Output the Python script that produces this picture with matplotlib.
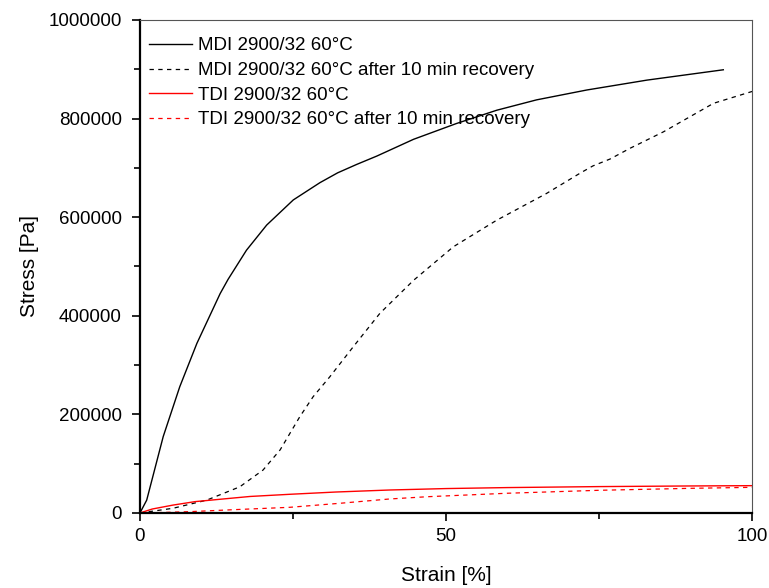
import matplotlib.pyplot as plt
from matplotlib.ticker import MultipleLocator, FormatStrFormatter

plt.rcParams['font.family'] = ['Liberation Sans', 'DejaVu Sans']

# MDI, first loading
mdi_x = [0, 1.1, 3.8, 6.5, 9.3, 13.1, 14.4, 17.4, 20.7, 25.05, 29.4, 32.3,
         35.4, 38.7, 44.7, 51.7, 58.3, 64.8, 73, 82.8, 95.3]
mdi_y = [0, 26000, 155000, 256000, 344000, 445000, 474000, 533000, 584000,
         635000, 670000, 690000, 707000, 724000, 758000, 790000, 817000,
         838000, 858000, 878000, 899000]

# MDI, after 10 min recovery
mdi_rec_x = [0, 5.4, 10.9, 16.3, 20.1, 22.9, 26.1, 28.3, 31, 34.9, 39.2,
             44.7, 51.2, 58.3, 66.4, 72, 74, 76.8, 80.1, 85.5, 93.7, 100]
mdi_rec_y = [0, 9500, 26000, 53000, 87000, 128000, 195000, 236000, 276000,
             338000, 405000, 472000, 540000, 594000, 648000, 690000, 704000,
             718000, 740000, 773000, 831000, 855000]

# TDI, first loading
tdi_x = [0, 2, 5.4, 9, 13.6, 18, 24.5, 32, 40.8, 50, 60, 75, 90, 100]
tdi_y = [0, 8000, 16000, 23000, 28400, 33500, 37900, 42500, 46600, 49500,
         51500, 53500, 54800, 55400]

# TDI, after 10 min recovery
tdi_rec_x = [0, 3, 8.2, 15, 24.5, 33, 40.8, 47, 60, 75, 90, 100]
tdi_rec_y = [0, 800, 2700, 6500, 11500, 20000, 28400, 33000, 40000, 46000,
             50000, 52000]

fig = plt.figure(figsize=(7.69, 5.88), dpi=100)
ax = fig.add_axes([0.182, 0.1276, 0.796, 0.8384])

dash = (0, (3.5, 3.5))
ax.plot(mdi_x, mdi_y, color='black', lw=1.0, label='MDI 2900/32 60°C')
ax.plot(mdi_rec_x, mdi_rec_y, color='black', lw=0.9, ls=dash,
        label='MDI 2900/32 60°C after 10 min recovery')
ax.plot(tdi_x, tdi_y, color='red', lw=1.0, label='TDI 2900/32 60°C')
ax.plot(tdi_rec_x, tdi_rec_y, color='red', lw=0.9, ls=dash,
        label='TDI 2900/32 60°C after 10 min recovery')

ax.set_xlim(0, 100)
ax.set_ylim(0, 1000000)
ax.xaxis.set_major_locator(MultipleLocator(50))
ax.xaxis.set_minor_locator(MultipleLocator(25))
ax.yaxis.set_major_locator(MultipleLocator(200000))
ax.yaxis.set_minor_locator(MultipleLocator(100000))
ax.yaxis.set_major_formatter(FormatStrFormatter('%d'))
ax.tick_params(which='both', direction='out', top=False, right=False,
               labelsize=13.5, width=1.2)
ax.tick_params(which='major', length=6, pad=5)
ax.tick_params(axis='y', which='major', pad=7)
ax.tick_params(which='minor', length=4)
for side in ('left', 'bottom'):
    ax.spines[side].set_linewidth(1.6)
for side in ('top', 'right'):
    ax.spines[side].set_linewidth(0.8)
    ax.spines[side].set_color('#555555')

ax.set_xlabel('Strain [%]', fontsize=15, labelpad=15)
ax.set_ylabel('Stress [Pa]', fontsize=15, labelpad=7)

ax.legend(loc='upper left', frameon=False, fontsize=13.5, handlelength=2.3,
          handletextpad=0.3, labelspacing=0.4, borderaxespad=0.0,
          bbox_to_anchor=(0.003, 0.98))

fig.savefig('out.png', dpi=100)
